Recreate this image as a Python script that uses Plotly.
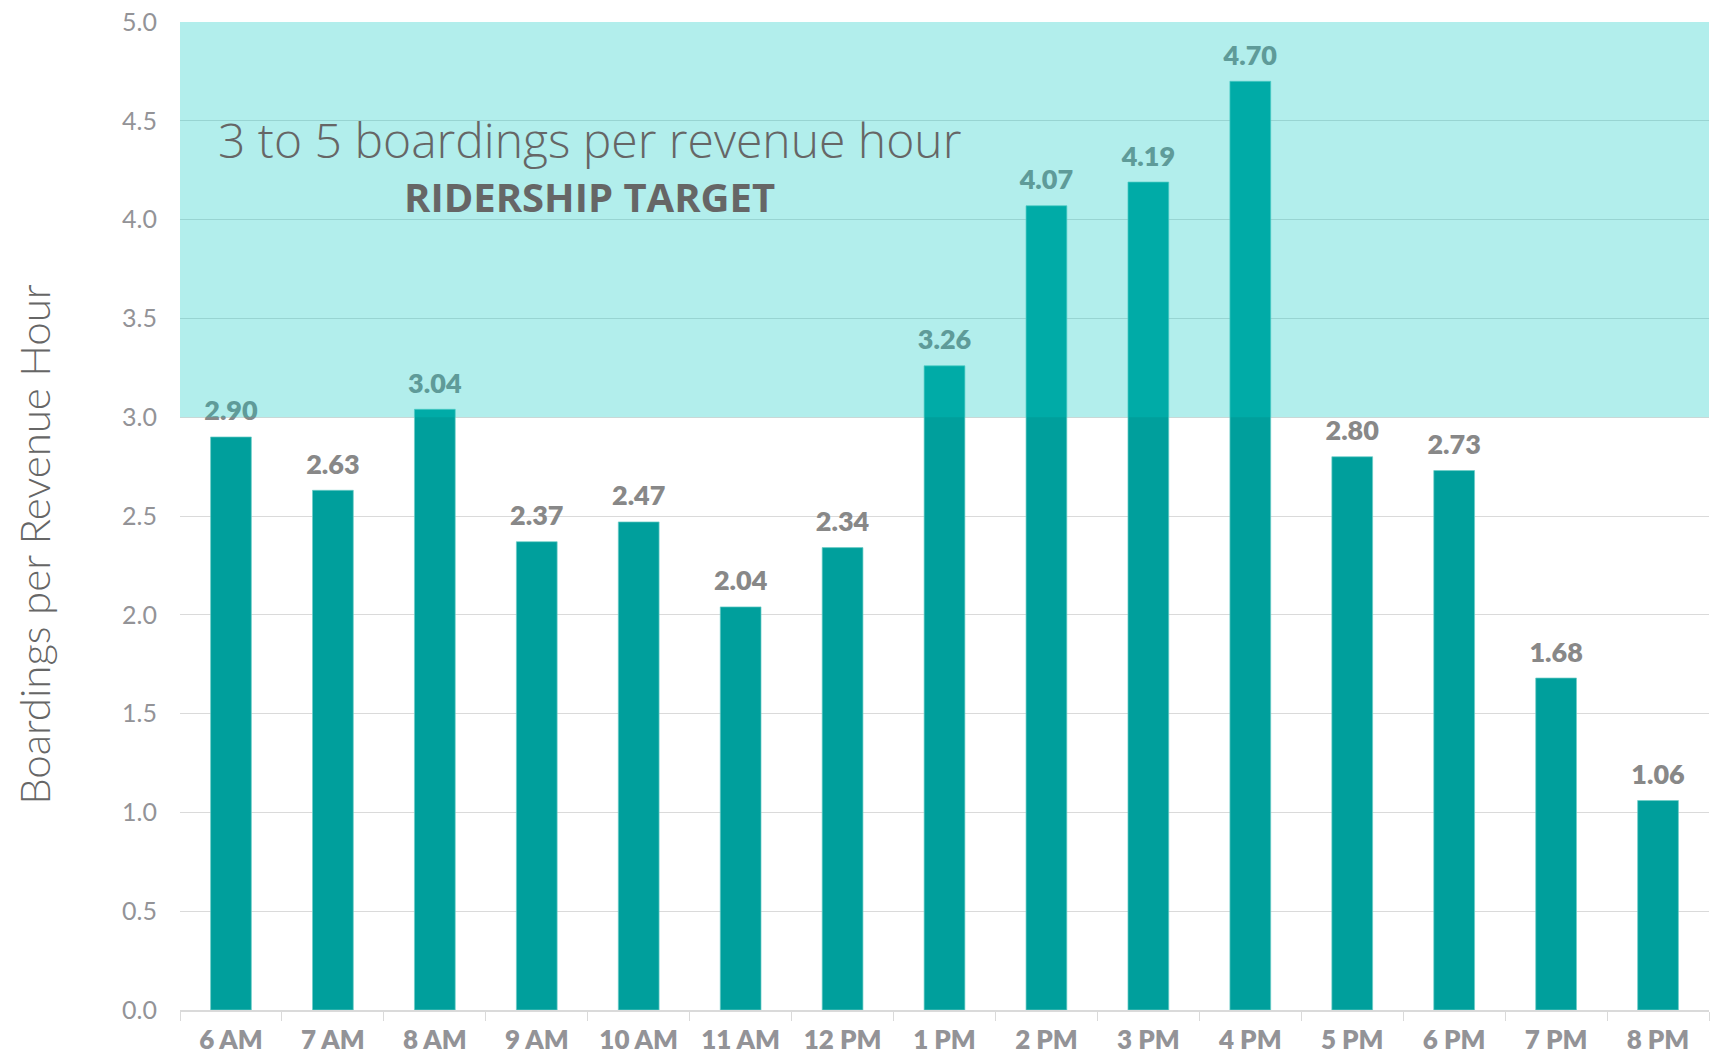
import plotly.graph_objects as go

# Average boardings per revenue hour by departure hour
hours = ["6 AM", "7 AM", "8 AM", "9 AM", "10 AM", "11 AM", "12 PM", "1 PM",
         "2 PM", "3 PM", "4 PM", "5 PM", "6 PM", "7 PM", "8 PM"]
boardings = [2.90, 2.63, 3.04, 2.37, 2.47, 2.04, 2.34, 3.26,
             4.07, 4.19, 4.70, 2.80, 2.73, 1.68, 1.06]

# Ridership target band
target_low = 3
target_high = 5
y_ticks = [0.0, 0.5, 1.0, 1.5, 2.0, 2.5, 3.0, 3.5, 4.0, 4.5, 5.0]

BAR = "#009f9c"
TICK_GRAY = "#939397"
LABEL_GRAY = "#888888"
TEXT_GRAY = "#666666"
GRID = "#dadada"

fig = go.Figure()

fig.add_trace(go.Bar(
    x=hours,
    y=boardings,
    marker=dict(color=BAR, line=dict(color="rgba(110,205,200,0.7)", width=1)),
    hoverinfo="x+y",
    showlegend=False,
))

# Value labels sit a little above each bar
fig.add_trace(go.Scatter(
    x=hours,
    y=boardings,
    mode="markers+text",
    marker=dict(size=14, color="rgba(0,0,0,0)"),
    text=[f"{v:.2f}" for v in boardings],
    textposition="top center",
    textfont=dict(family="Lato", size=27, color=LABEL_GRAY, weight=800),
    hoverinfo="skip",
    showlegend=False,
))

# Translucent band covering the target range, drawn over the bars
fig.add_shape(
    type="rect", xref="paper", x0=0, x1=1, yref="y",
    y0=target_low, y1=target_high,
    fillcolor="rgb(0,198,191)", opacity=0.3, line=dict(width=0),
    layer="above",
)

fig.add_annotation(
    xref="paper", yref="y", x=0.268, y=4.405,
    xanchor="center", yanchor="middle",
    text="3 to 5 boardings per revenue hour",
    showarrow=False,
    font=dict(family="Open Sans", size=48, color=TEXT_GRAY, weight=300),
)
fig.add_annotation(
    xref="paper", yref="y", x=0.268, y=4.115,
    xanchor="center", yanchor="middle",
    text="RIDERSHIP TARGET",
    showarrow=False,
    font=dict(family="Open Sans", size=40, color=TEXT_GRAY, weight="bold"),
)

# Vertical axis title
fig.add_annotation(
    xref="paper", yref="paper", x=-0.096, y=0.471,
    xanchor="center", yanchor="middle",
    text="Boardings per Revenue Hour",
    textangle=-90,
    showarrow=False,
    font=dict(family="Lato", size=42, color=TEXT_GRAY, weight=300),
)

fig.update_layout(
    width=1710,
    height=1056,
    margin=dict(l=180, r=1, t=22, b=35),
    paper_bgcolor="white",
    plot_bgcolor="white",
    bargap=0.6,
    font=dict(family="Lato", color=TICK_GRAY),
)

fig.update_xaxes(
    type="category",
    range=[-0.5, len(hours) - 0.5],
    tickson="boundaries",
    ticks="outside",
    ticklen=9,
    tickcolor=GRID,
    showline=True,
    linecolor=GRID,
    linewidth=2,
    showgrid=False,
    ticklabelstandoff=6,
    tickfont=dict(family="Lato", size=26, color=TICK_GRAY, weight=800),
)

fig.update_yaxes(
    range=[0, 5],
    tickvals=y_ticks,
    ticktext=[f"{t:.1f}" for t in y_ticks],
    showgrid=True,
    gridcolor=GRID,
    gridwidth=1,
    zeroline=False,
    ticks="",
    ticklabelstandoff=22,
    tickfont=dict(family="Lato", size=25, color=TICK_GRAY),
)

fig.write_html("out.html")
